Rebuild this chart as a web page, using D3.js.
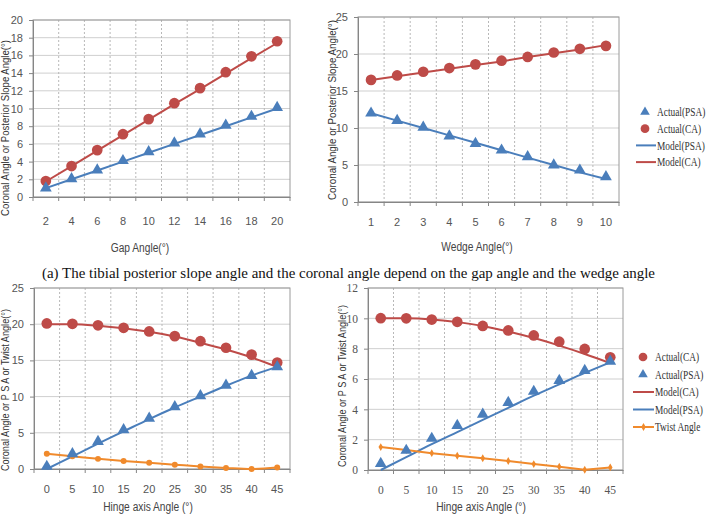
<!DOCTYPE html>
<html><head><meta charset="utf-8">
<script src="https://cdn.jsdelivr.net/npm/d3@7"></script>
<style>body{margin:0;background:#fff}svg{display:block}</style>
</head><body>
<svg id="c" width="706" height="515"></svg>
<script>
// ---------- data ----------
const gapAngles = [2,4,6,8,10,12,14,16,18,20];
const gapCA_actual = [1.8,3.5,5.3,7.1,8.8,10.6,12.3,14.1,15.9,17.6];
const gapPSA_actual = [1.0,2.05,3.05,4.1,5.1,6.1,7.1,8.1,9.1,10.1];
const gapCA_model = [1.75,3.5,5.25,7.0,8.75,10.5,12.2,13.95,15.7,17.4];
const gapPSA_model = [1.0,2.0,3.0,4.0,5.0,6.0,7.0,8.0,9.0,10.0];

const wedgeAngles = [1,2,3,4,5,6,7,8,9,10];
const wedgeCA_actual = [16.5,17.1,17.6,18.1,18.6,19.1,19.6,20.2,20.7,21.1];
const wedgePSA_actual = [12.0,11.0,10.1,8.9,7.9,7.0,6.1,5.0,4.3,3.4];
const wedgeCA_model = [16.5,17.0,17.5,18.0,18.5,19.0,19.6,20.1,20.6,21.2];
const wedgePSA_model = [12.0,11.0,10.0,9.0,8.0,7.0,6.0,5.0,4.0,3.1];

const hingeAngles = [0,5,10,15,20,25,30,35,40,45];
const h1CA_actual = [20.1,20.05,19.85,19.5,19.0,18.35,17.65,16.75,15.8,14.7];
const h1PSA_actual = [0.35,2.1,3.8,5.4,7.0,8.6,10.1,11.55,12.9,14.1];
const h1CA_model = [20.0,20.0,19.8,19.45,18.95,18.3,17.45,16.5,15.4,14.1];
const h1PSA_model = [0,1.75,3.5,5.2,6.9,8.5,10.0,11.5,12.9,14.1];
const h1Twist = [2.1,1.75,1.4,1.1,0.85,0.6,0.35,0.15,0.0,0.2];

const h2CA_actual = [10.01,10.0,9.92,9.77,9.5,9.2,8.87,8.46,7.98,7.43];
const h2PSA_actual = [0.42,1.29,2.08,2.93,3.67,4.44,5.18,5.9,6.56,7.17];
const h2CA_model = [10.0,10.0,9.93,9.75,9.5,9.13,8.7,8.2,7.65,7.05];
const h2PSA_model = [0,0.85,1.7,2.5,3.3,4.1,4.9,5.65,6.4,7.1];
const h2Twist = [1.51,1.32,1.11,0.94,0.77,0.59,0.39,0.22,0.02,0.17];

const caption = "(a) The tibial posterior slope angle and the coronal angle depend on the gap angle and the wedge angle";

// ---------- style ----------
const RED = "#BE4B48", BLUE = "#4A7EBB", ORANGE = "#F08A2C";
const SANS = "'Liberation Sans', Arial, sans-serif";
const SERIF = "'Liberation Serif', 'Times New Roman', serif";
const svg = d3.select("#c");

function squeeze(sel, ratio){
  sel.each(function(){
    const L = this.getComputedTextLength();
    d3.select(this).attr("textLength", L*ratio).attr("lengthAdjust","spacingAndGlyphs");
  });
}

function panel(o){
  const g = svg.append("g");
  const x = d3.scaleBand().domain(o.cats.map(String)).range([o.left,o.right]).paddingInner(0).paddingOuter(0);
  const y = d3.scaleLinear().domain([0,o.yMax]).range([o.bottom,o.top]);
  const cx = (c)=> x(String(c)) + x.bandwidth()/2;
  const yt = d3.range(0,o.yMax+0.001,o.yStep);
  g.selectAll(".hg").data(yt).join("line")
    .attr("x1",o.left).attr("x2",o.right).attr("y1",d=>y(d)).attr("y2",d=>y(d))
    .attr("stroke","#cfcfcf").attr("stroke-width",1);
  const bounds = o.cats.slice(1).map(c=>x(String(c)));
  g.selectAll(".vg").data(bounds).join("line")
    .attr("x1",d=>d).attr("x2",d=>d).attr("y1",o.top).attr("y2",o.bottom)
    .attr("stroke","#b8b8b8").attr("stroke-dasharray","2,2").attr("stroke-width",1);
  g.append("rect").attr("x",o.left).attr("y",o.top).attr("width",o.right-o.left).attr("height",o.bottom-o.top)
    .attr("fill","none").attr("stroke","#9a9a9a").attr("stroke-width",1);
  const xa = g.append("g").attr("transform",`translate(0,${o.bottom})`)
    .call(d3.axisBottom(x).tickSize(0).tickPadding(o.xPad||12));
  xa.select(".domain").attr("stroke","#868686");
  const allB = o.cats.map(c=>x(String(c))).concat([o.right]);
  g.selectAll(".xt").data(allB).join("line")
    .attr("x1",d=>d).attr("x2",d=>d).attr("y1",o.bottom).attr("y2",o.bottom+4).attr("stroke","#868686");
  xa.selectAll("text").attr("font-family",o.tickFont).attr("font-size",o.tickSize).attr("fill","#555");
  const ya = g.append("g").attr("transform",`translate(${o.left},0)`)
    .call(d3.axisLeft(y).tickValues(yt).tickSize(4).tickPadding(6).tickFormat(d3.format("d")));
  ya.select(".domain").attr("stroke","#868686");
  ya.selectAll("line").attr("stroke","#868686");
  ya.selectAll("text").attr("font-family",o.tickFont).attr("font-size",o.tickSize).attr("fill","#555");
  const xt = g.append("text").attr("x",o.xtX).attr("y",o.xtY).attr("text-anchor","middle")
    .attr("font-family",SANS).attr("font-size",12).attr("fill","#444").text(o.xTitle);
  squeeze(xt, 0.85);
  g.append("text").attr("transform",`translate(${o.ytX},${o.ytY}) rotate(-90)`).attr("text-anchor","middle")
    .attr("font-family",SANS).attr("font-size",10.5).attr("fill","#333").text(o.yTitle)
    .attr("textLength",o.ytLen).attr("lengthAdjust","spacingAndGlyphs");
  o.series.forEach(s=>{
    const pts = o.cats.map((c,i)=>[cx(c), y(s.values[i])]);
    if(s.line){
      g.append("path").attr("d",d3.line().curve(s.curve||d3.curveLinear)(pts))
        .attr("fill","none").attr("stroke",s.color).attr("stroke-width",s.width||2);
    }
    if(s.marker){
      const sym = d3.symbol().type(s.marker).size(s.msize);
      g.selectAll(null).data(pts).join("path").attr("d",sym)
        .attr("transform",d=>`translate(${d[0]},${d[1]})`).attr("fill",s.color);
    }
  });
  if(o.legend){
    o.legend.items.forEach((it,i)=>{
      const ly = o.legend.y + i*o.legend.dy;
      if(it.line){
        g.append("line").attr("x1",o.legend.x0).attr("x2",o.legend.x1).attr("y1",ly).attr("y2",ly)
          .attr("stroke",it.color).attr("stroke-width",2);
      }
      if(it.marker){
        g.append("path").attr("d",d3.symbol().type(it.marker).size(it.msize)())
          .attr("transform",`translate(${it.line?(o.legend.x0+o.legend.x1)/2:o.legend.mx},${ly})`).attr("fill",it.color);
      }
      g.append("text").attr("transform",`translate(${o.legend.tx},${ly}) scale(0.78,1)`).attr("dy","0.35em")
        .attr("font-family",SERIF).attr("font-size",12).attr("fill","#333").text(it.label);
    });
  }
}

panel({cats:gapAngles,left:33,right:290,top:20,bottom:197,yMax:20,yStep:2,
  tickFont:SANS,tickSize:11,xPad:20,
  xTitle:"Gap Angle(°)",xtX:140,xtY:252,
  yTitle:"Coronal Angle or Posterior Slope Angle(°)",ytX:9,ytY:128,ytLen:176,
  series:[
    {values:gapCA_model,line:true,color:RED},
    {values:gapPSA_model,line:true,color:BLUE},
    {values:gapCA_actual,marker:d3.symbolCircle,msize:90,color:RED},
    {values:gapPSA_actual,marker:d3.symbolTriangle,msize:60,color:BLUE}
  ]});

panel({cats:wedgeAngles,left:358,right:619,top:17,bottom:202,yMax:25,yStep:5,
  tickFont:SANS,tickSize:11,xPad:16,
  xTitle:"Wedge Angle(°)",xtX:477,xtY:251,
  yTitle:"Coronal Angle or Posterior Slope Angle(°)",ytX:336,ytY:110,ytLen:180,
  series:[
    {values:wedgeCA_model,line:true,color:RED},
    {values:wedgePSA_model,line:true,color:BLUE},
    {values:wedgeCA_actual,marker:d3.symbolCircle,msize:90,color:RED},
    {values:wedgePSA_actual,marker:d3.symbolTriangle,msize:60,color:BLUE}
  ],
  legend:{x0:636,x1:656,mx:645,tx:657,y:112,dy:16.7,items:[
    {label:"Actual(PSA)",marker:d3.symbolTriangle,msize:40,color:BLUE},
    {label:"Actual(CA)",marker:d3.symbolCircle,msize:60,color:RED},
    {label:"Model(PSA)",line:true,color:BLUE},
    {label:"Model(CA)",line:true,color:RED}
  ]}});

panel({cats:hingeAngles,left:34,right:290,top:288,bottom:469,yMax:25,yStep:5,
  tickFont:SANS,tickSize:11,xPad:16,
  xTitle:"Hinge axis Angle (°)",xtX:148,xtY:511,
  yTitle:"Coronal Angle or P S A or Twist Angle(°)",ytX:9,ytY:390,ytLen:162,
  series:[
    {values:h1CA_model,line:true,color:RED,curve:d3.curveMonotoneX},
    {values:h1PSA_model,line:true,color:BLUE,curve:d3.curveMonotoneX},
    {values:h1Twist,line:true,color:ORANGE,marker:d3.symbolCircle,msize:28,curve:d3.curveMonotoneX},
    {values:h1CA_actual,marker:d3.symbolCircle,msize:90,color:RED},
    {values:h1PSA_actual,marker:d3.symbolTriangle,msize:60,color:BLUE}
  ]});

panel({cats:hingeAngles,left:368,right:623,top:288,bottom:470,yMax:12,yStep:2,
  tickFont:SERIF,tickSize:11.5,xPad:16,
  xTitle:"Hinge axis Angle (°)",xtX:481,xtY:511,
  yTitle:"Coronal Angle or P S A or Twist Angle(°)",ytX:346,ytY:386,ytLen:162,
  series:[
    {values:h2CA_model,line:true,color:RED,curve:d3.curveMonotoneX},
    {values:h2PSA_model,line:true,color:BLUE,curve:d3.curveMonotoneX},
    {values:h2Twist,line:true,color:ORANGE,marker:d3.symbolDiamond,msize:18,curve:d3.curveLinear},
    {values:h2CA_actual,marker:d3.symbolCircle,msize:90,color:RED},
    {values:h2PSA_actual,marker:d3.symbolTriangle,msize:60,color:BLUE}
  ],
  legend:{x0:633,x1:654,mx:643,tx:655,y:357,dy:17.5,items:[
    {label:"Actual(CA)",marker:d3.symbolCircle,msize:60,color:RED},
    {label:"Actual(PSA)",marker:d3.symbolTriangle,msize:40,color:BLUE},
    {label:"Model(CA)",line:true,color:RED},
    {label:"Model(PSA)",line:true,color:BLUE},
    {label:"Twist Angle",line:true,marker:d3.symbolDiamond,msize:18,color:ORANGE}
  ]}});

svg.append("text").attr("x",42).attr("y",278).attr("font-family",SERIF).attr("font-size",15.5)
  .attr("fill","#111").text(caption).attr("textLength",613).attr("lengthAdjust","spacingAndGlyphs");
</script>
</body></html>
